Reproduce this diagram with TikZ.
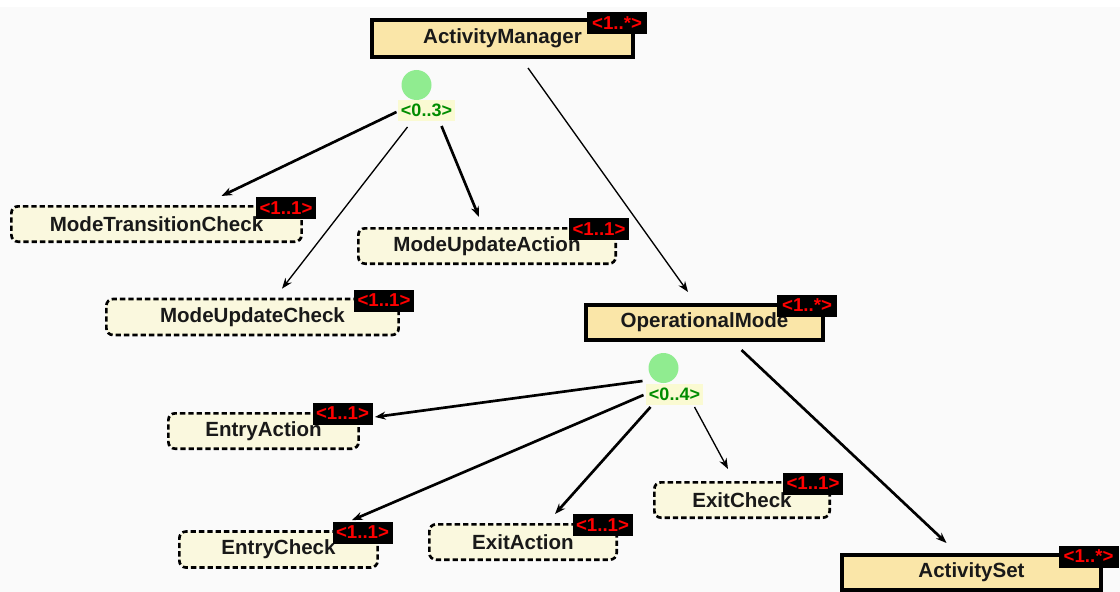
\documentclass[tikz,border=0pt]{standalone}
\usepackage{fontspec}
\setmainfont{Liberation Sans}
\usetikzlibrary{arrows.meta,calc}

\definecolor{pagebg}{RGB}{250,250,250}
\definecolor{classfill}{RGB}{250,230,168}
\definecolor{partfill}{RGB}{250,248,222}
\definecolor{multred}{RGB}{255,0,0}
\definecolor{choicegreen}{RGB}{144,236,144}
\definecolor{rangefill}{RGB}{250,250,210}
\definecolor{rangetext}{RGB}{0,140,0}
\definecolor{labeltext}{RGB}{25,25,25}

\tikzset{every picture/.style={line width=0.75pt}}
\tikzset{
  classbox/.style={draw, line width=3pt, fill=classfill, inner sep=0pt, text=labeltext, font=\fontsize{15.4}{18}\selectfont\bfseries},
  partbox/.style={draw, line width=2pt, dash pattern=on 4pt off 2.25pt, rounded corners=5pt, fill=partfill, inner sep=0pt, text=labeltext, font=\fontsize{15.4}{18}\selectfont\bfseries},
  mult/.style={fill=black, text=multred, minimum width=45pt, minimum height=16.5pt, inner sep=0pt, font=\fontsize{14}{16}\selectfont\bfseries},
  choice/.style={circle, fill=choicegreen, minimum size=22.5pt, inner sep=0pt},
  rangetag/.style={fill=rangefill, text=rangetext, minimum width=42.75pt, minimum height=15.75pt, inner sep=0pt, font=\fontsize{13.5}{15}\selectfont\bfseries},
  link/.style={-{Stealth[length=8pt,width=6pt]}, line width=1pt},
  boldlink/.style={link, line width=2pt}
}

\begin{document}
\begin{tikzpicture}[x=0.75pt,y=0.75pt,yscale=-1,xscale=1]
    \useasboundingbox (0,0) rectangle (1120,592);
    %Background
    \fill [pagebg] (0,7) rectangle (1120,592);

    %Class boxes
    \node [classbox, minimum width=195.75pt, minimum height=27.75pt] (am) at (502.5,38.5) {ActivityManager};
    \node [classbox, minimum width=177.75pt, minimum height=26.25pt] (om) at (704.5,322.5) {OperationalMode};
    \node [classbox, minimum width=194.25pt, minimum height=26.25pt] (as) at (971.5,572.5) {ActivitySet};

    %Part boxes
    \node [partbox, minimum width=217.7pt, minimum height=26.5pt] (mtc) at (156.5,224) {ModeTransitionCheck};
    \node [partbox, minimum width=193pt, minimum height=26.5pt] (mua) at (487,246) {ModeUpdateAction};
    \node [partbox, minimum width=219.2pt, minimum height=27pt] (muc) at (252.5,317) {ModeUpdateCheck};
    \node [partbox, minimum width=142.7pt, minimum height=26.5pt] (ea) at (263.5,431) {EntryAction};
    \node [partbox, minimum width=148.7pt, minimum height=27pt] (ec) at (278.5,549.5) {EntryCheck};
    \node [partbox, minimum width=140.5pt, minimum height=26.5pt] (xa) at (523,542) {ExitAction};
    \node [partbox, minimum width=131.5pt, minimum height=26.5pt] (xc) at (742,500) {ExitCheck};

    %Multiplicity tags
    \node [mult] (am-m) at (617,23) {<1..*>};
    \node [mult] (om-m) at (807,305.5) {<1..*>};
    \node [mult] (as-m) at (1088.5,556.5) {<1..*>};
    \node [mult] (mtc-m) at (286,208) {<1..1>};
    \node [mult] (mua-m) at (599,229) {<1..1>};
    \node [mult] (muc-m) at (384,300.5) {<1..1>};
    \node [mult] (ea-m) at (342.5,413.5) {<1..1>};
    \node [mult] (ec-m) at (362.5,532.5) {<1..1>};
    \node [mult] (xa-m) at (602.5,525) {<1..1>};
    \node [mult] (xc-m) at (813,483.5) {<1..1>};

    %Choice points
    \node [choice] (ch03) at (416.5,85) {};
    \node [rangetag] (lbl03) at (426.5,110) {<0..3>};
    \node [choice] (ch04) at (663.5,368) {};
    \node [rangetag] (lbl04) at (674.5,394) {<0..4>};

    %Straight Lines
    \draw [link] ($(am.south)+(25.5,9)$) -- ($(om.north)+(-16.5,-11)$);
    \draw [boldlink] ($(om.south)+(37,8)$) -- ($(as.north)+(-25,-10)$);
    \draw [boldlink] ($(lbl03.west)+(-1,2)$) -- ($(mtc.north)+(65,-9)$);
    \draw [link] ($(lbl03.south)+(-19,6)$) -- ($(muc.north)+(29.5,-9)$);
    \draw [boldlink] ($(lbl03.south)+(15,5)$) -- ($(mua.north)+(-8,-10)$);
    \draw [boldlink] ($(lbl04.west)+(-3,-13)$) -- ($(ea.north east)+(15,5)$);
    \draw [boldlink] ($(lbl04.west)+(-2,1)$) -- ($(ec.north east)+(-27,-10)$);
    \draw [boldlink] ($(lbl04.south)+(-24,2)$) -- ($(xa.north)+(32,-9)$);
    \draw [link] ($(lbl04.south)+(20,2)$) -- ($(xc.north)+(-14,-12)$);

\end{tikzpicture}
\end{document}
